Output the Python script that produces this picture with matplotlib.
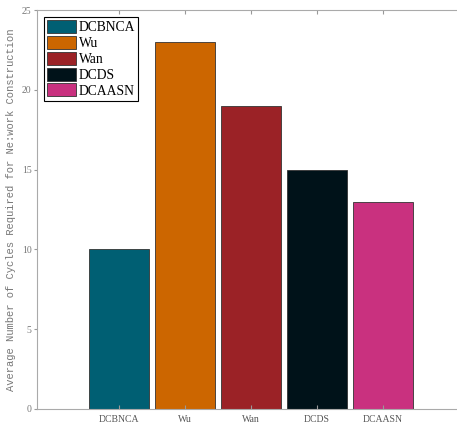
import numpy as np
import matplotlib.pyplot as plt

# 数据
methods = ['DCBNCA', 'Wu', 'Wan', 'DCDS', 'DCAASN']
cycles = [10, 23, 19, 15, 13]
colors = ['#005f73', '#cc6600', '#9b2226', '#001219', '#c9317f']

fig = plt.figure(figsize=(4.57, 4.24), dpi=100)
ax = fig.add_axes([37 / 457, 15 / 424, 420 / 457, 399 / 424])

x = np.arange(1, len(methods) + 1)
bars = ax.bar(x, cycles, width=0.9, color=colors, edgecolor='#333333', linewidth=0.6,
              label=methods)

ax.set_xlim(-0.242, 6.12)
ax.set_ylim(0, 25)
ax.set_xticks(x)
ax.set_xticklabels(methods, family='Liberation Serif', fontsize=7, color='#555555')
ax.set_yticks(range(0, 26, 5))
ax.set_yticklabels([str(v) for v in range(0, 26, 5)], family='Liberation Serif',
                   fontsize=7, color='#777777')
ax.tick_params(axis='x', direction='in', top=True, length=3, color='#999999', pad=4)
ax.tick_params(axis='y', direction='out', length=2, color='#999999', pad=2)

ax.spines['right'].set_visible(False)
for s in ['left', 'top', 'bottom']:
    ax.spines[s].set_color('#aaaaaa')
    ax.spines[s].set_linewidth(0.8)

ax.set_ylabel('Average Number of Cycles Required for Ne:work Construction',
              family='Liberation Mono', fontsize=7.6, color='#777777', labelpad=4)

leg = ax.legend(handles=list(bars), labels=methods, loc='upper left',
                prop={'family': 'Liberation Serif', 'size': 9.8},
                fancybox=False, edgecolor='black', framealpha=1,
                handlelength=2.1, handleheight=1.1, handletextpad=0.2,
                labelspacing=0.12, borderpad=0.25, borderaxespad=0.5)
leg.get_frame().set_linewidth(0.8)

fig.savefig('out.png', dpi=100)
